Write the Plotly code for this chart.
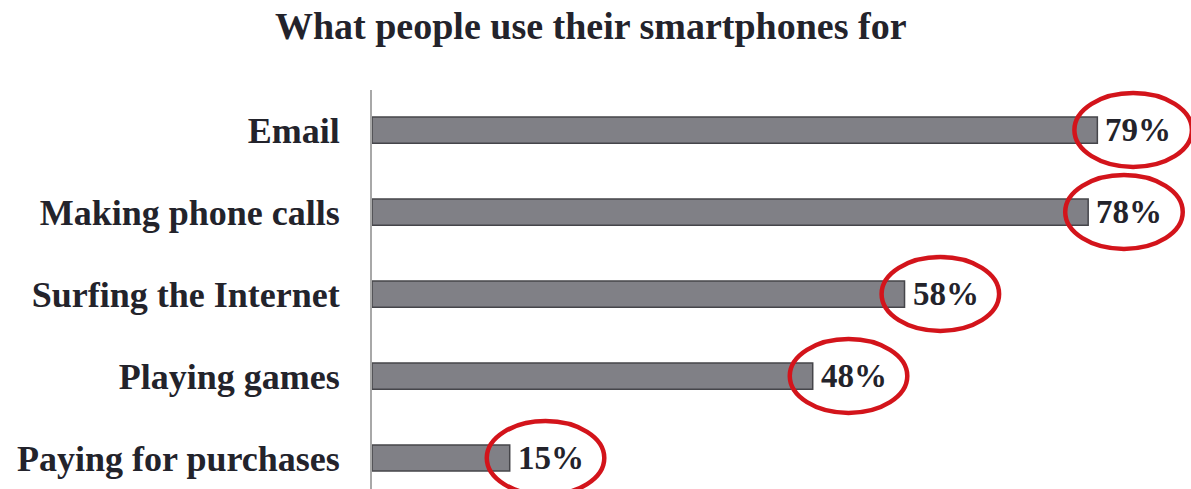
import plotly.graph_objects as go

# Survey results: share of smartphone users doing each activity
activities = ["Email", "Making phone calls", "Surfing the Internet",
              "Playing games", "Paying for purchases"]
shares = [79, 78, 58, 48, 15]

# Email on top, purchases at the bottom
positions = list(range(len(activities) - 1, -1, -1))

serif = "Liberation Serif, Times New Roman, serif"
ink = "#23232b"

fig = go.Figure(
    go.Bar(
        x=shares,
        y=positions,
        orientation="h",
        width=0.32,
        marker=dict(color="#808086", line=dict(color="#45454a", width=1.5)),
        hoverinfo="skip",
    )
)

# Percentage labels just past the end of each bar
for v, p in zip(shares, positions):
    fig.add_annotation(
        x=v, y=p, xref="x", yref="y",
        text=f"<b>{v}%</b>",
        showarrow=False,
        xanchor="left", yanchor="middle",
        xshift=6,
        font=dict(family=serif, size=33, color=ink),
    )

# Red ellipses highlighting each value label
for v, p in zip(shares, positions):
    fig.add_shape(
        type="circle",
        xref="x", yref="y",
        x0=v - 2.5, x1=v + 10.3,
        y0=p - 0.45, y1=p + 0.45,
        line=dict(color="#d3141b", width=4.5),
    )

fig.update_layout(
    width=1191,
    height=489,
    margin=dict(l=372, r=0, t=90, b=0),
    paper_bgcolor="white",
    plot_bgcolor="white",
    showlegend=False,
    title=dict(
        text="<b>What people use their smartphones for</b>",
        font=dict(family=serif, size=38, color=ink),
        xref="container", x=0.496, xanchor="center",
        yref="container", y=0.947, yanchor="middle",
    ),
    xaxis=dict(
        range=[0, 89.2],
        visible=False,
        showgrid=False,
        zeroline=False,
        fixedrange=True,
    ),
    yaxis=dict(
        range=[-0.378, 4.488],
        tickmode="array",
        tickvals=positions,
        ticktext=[f"<b>{a}</b>" for a in activities],
        tickfont=dict(family=serif, size=36, color=ink),
        ticklabelstandoff=23,
        showline=True,
        linecolor="#a8a8a8",
        linewidth=2,
        showgrid=False,
        zeroline=False,
        ticks="",
        fixedrange=True,
    ),
)

fig.write_html("out.html")
